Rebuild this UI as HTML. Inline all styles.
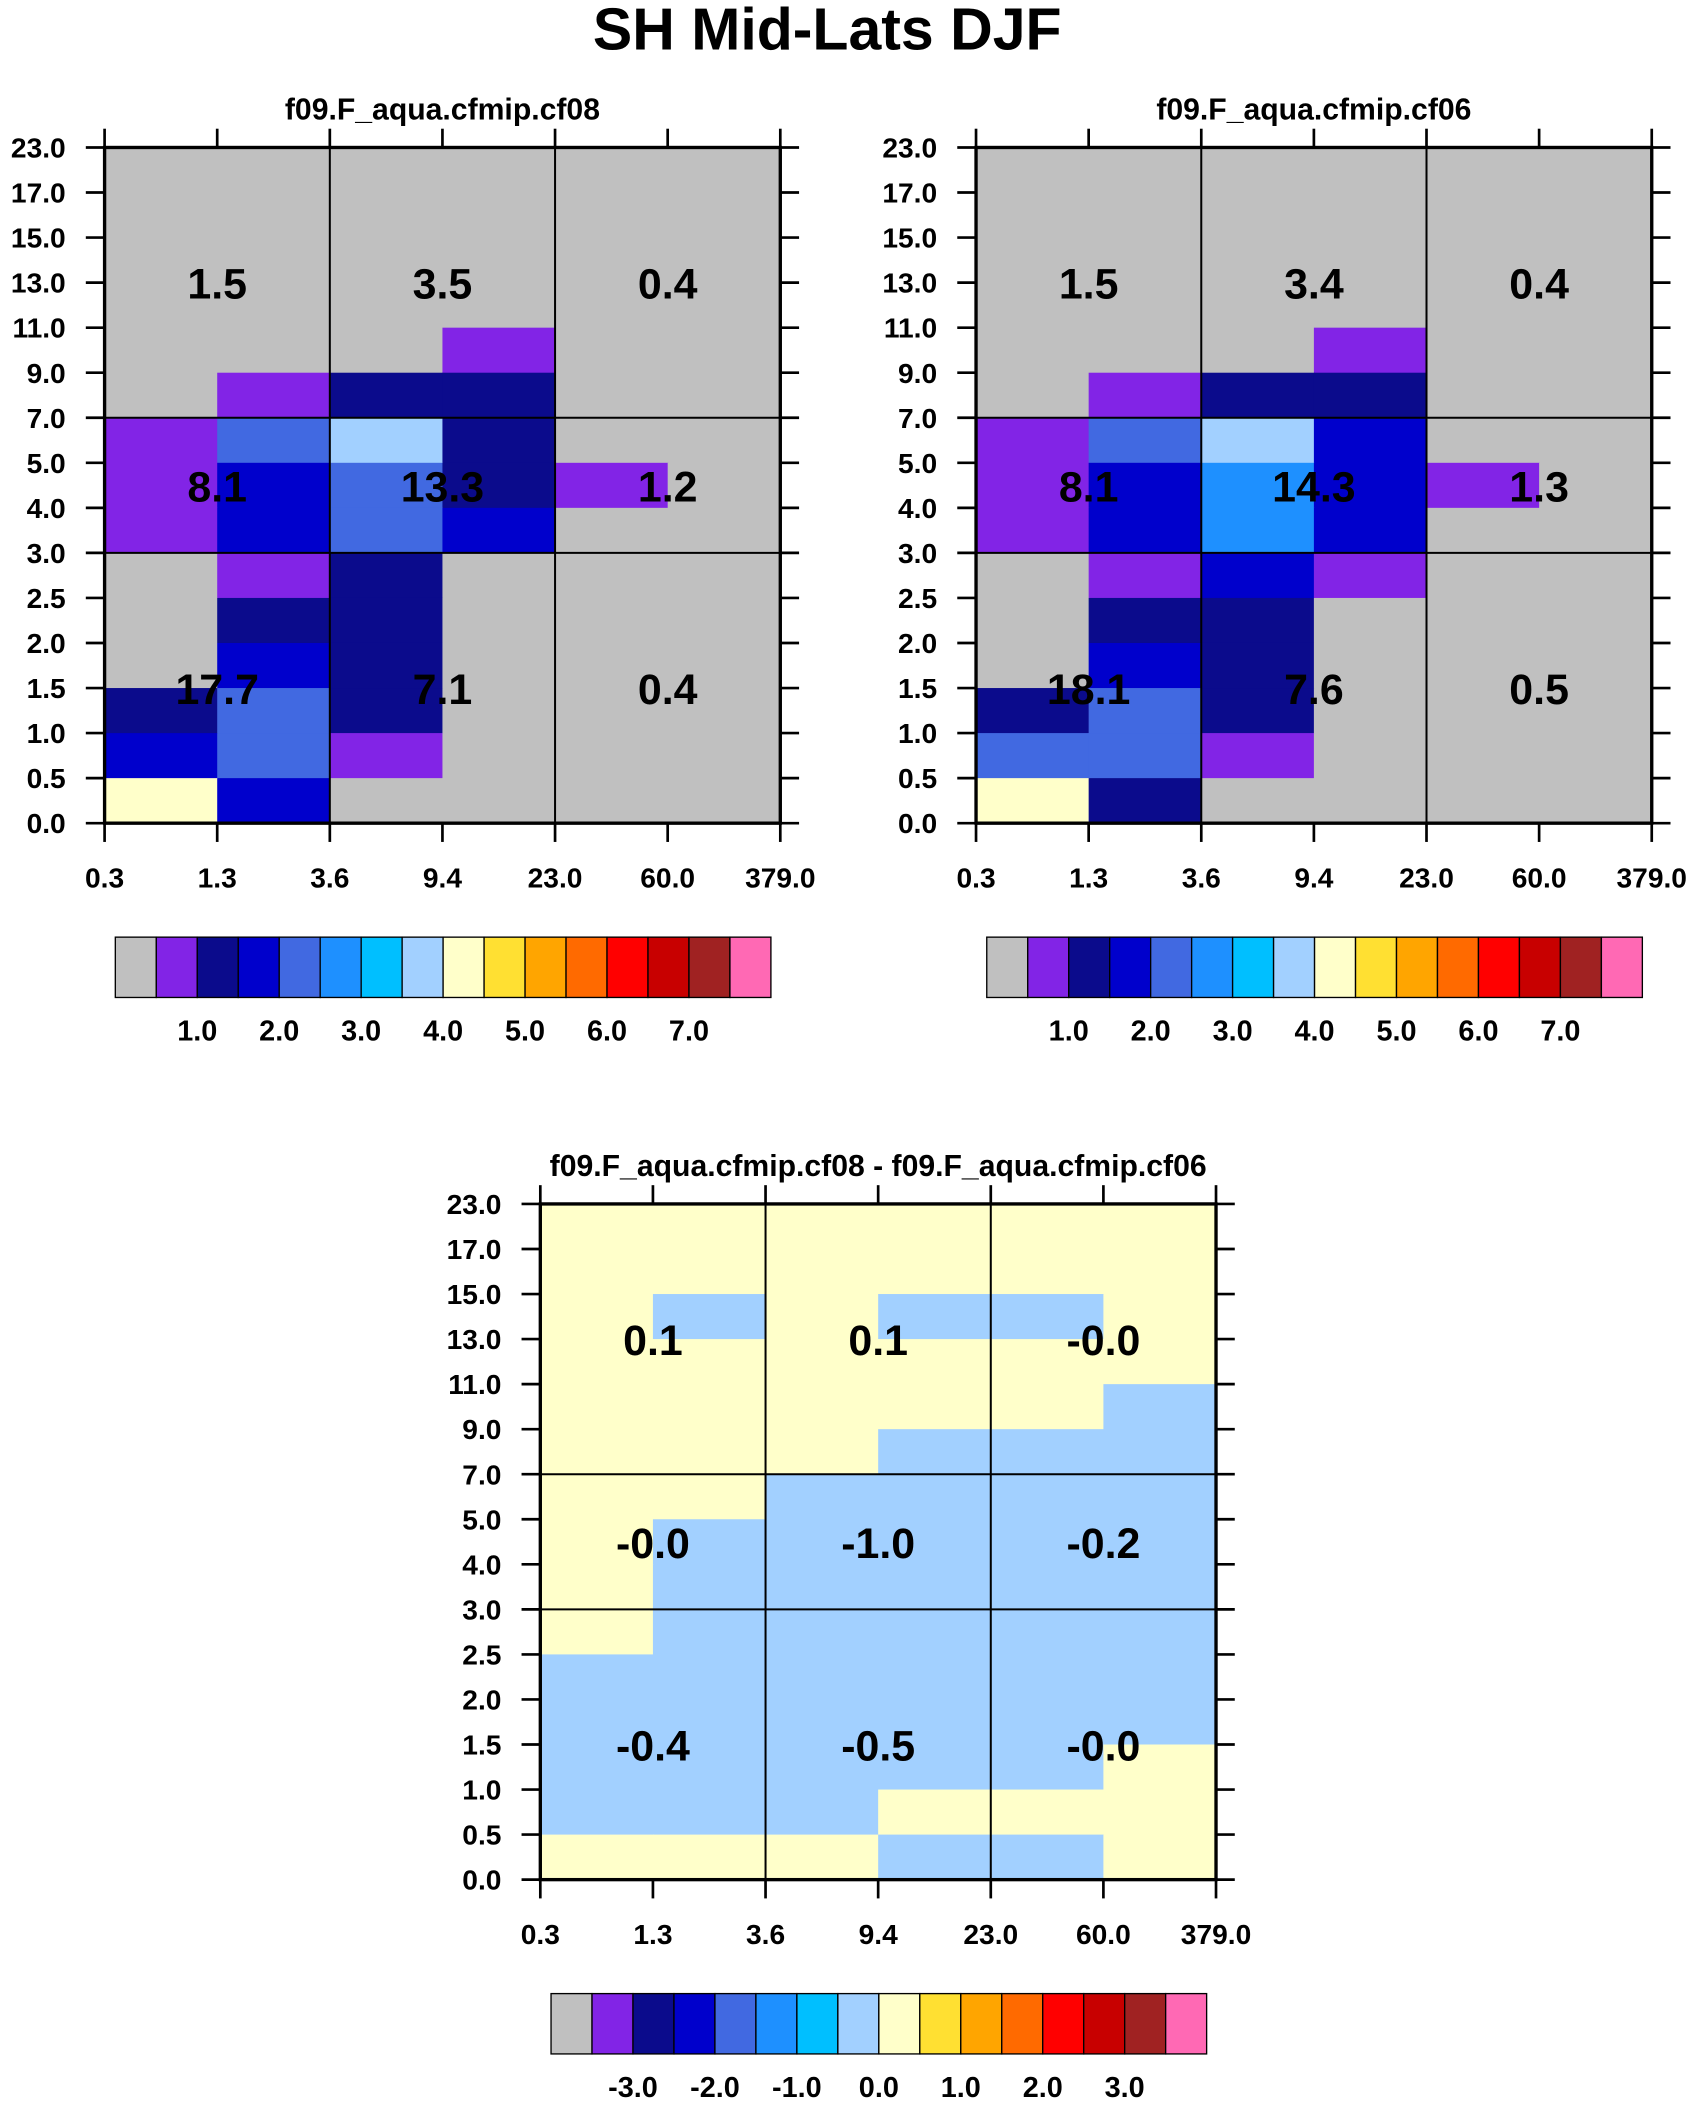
<!DOCTYPE html>
<html><head><meta charset="utf-8"><style>
html,body{margin:0;padding:0;background:#fff;}
svg text{font-family:"Liberation Sans",Arial,sans-serif;font-weight:bold;fill:#000;}
</style></head><body>
<svg id="fig" width="1696" height="2103" viewBox="0 0 1265 1568.6" xmlns="http://www.w3.org/2000/svg">
<rect width="1265" height="1569" fill="#fff"/>
<text x="617" y="37" font-size="44" text-anchor="middle">SH Mid-Lats DJF</text>
</svg>
<script>
const xTickLabels = ["0.3","1.3","3.6","9.4","23.0","60.0","379.0"];
const yTickLabels = ["23.0","17.0","15.0","13.0","11.0","9.0","7.0","5.0","4.0","3.0","2.5","2.0","1.5","1.0","0.5","0.0"];
const palette = ["#c0c0c0","#8224e6","#0b0b8c","#0000cc","#4169e1","#1e90ff","#00bfff","#a2d0ff","#ffffca","#ffe032","#ffa500","#ff6a00","#ff0000","#c80000","#a02222","#ff69b4"];
const cbLabelsAbs = ["1.0","2.0","3.0","4.0","5.0","6.0","7.0"];
const cbLabelsDiff = ["-3.0","-2.0","-1.0","0.0","1.0","2.0","3.0"];
// rows top (23-17) to bottom (0.5-0), 6 columns; values are palette indices
const cells1 = [
[0,0,0,0,0,0],[0,0,0,0,0,0],[0,0,0,0,0,0],[0,0,0,0,0,0],
[0,0,0,1,0,0],[0,1,2,2,0,0],[1,4,7,2,0,0],[1,3,4,2,1,0],[1,3,4,3,0,0],
[0,1,2,0,0,0],[0,2,2,0,0,0],[0,3,2,0,0,0],[2,4,2,0,0,0],[3,4,1,0,0,0],[8,3,0,0,0,0]];
const cells2 = [
[0,0,0,0,0,0],[0,0,0,0,0,0],[0,0,0,0,0,0],[0,0,0,0,0,0],
[0,0,0,1,0,0],[0,1,2,2,0,0],[1,4,7,3,0,0],[1,3,5,3,1,0],[1,3,5,3,0,0],
[0,1,3,1,0,0],[0,2,2,0,0,0],[0,3,2,0,0,0],[2,4,2,0,0,0],[4,4,1,0,0,0],[8,2,0,0,0,0]];
const cellsD = [
[8,8,8,8,8,8],[8,8,8,8,8,8],[8,7,8,7,7,8],[8,8,8,8,8,8],
[8,8,8,8,8,7],[8,8,8,7,7,7],[8,8,7,7,7,7],[8,7,7,7,7,7],[8,7,7,7,7,7],
[8,7,7,7,7,7],[7,7,7,7,7,7],[7,7,7,7,7,7],[7,7,7,7,7,8],[7,7,7,8,8,8],[8,8,8,7,7,8]];
const vals1 = ["1.5","3.5","0.4","8.1","13.3","1.2","17.7","7.1","0.4"];
const vals2 = ["1.5","3.4","0.4","8.1","14.3","1.3","18.1","7.6","0.5"];
const valsD = ["0.1","0.1","-0.0","-0.0","-1.0","-0.2","-0.4","-0.5","-0.0"];

const NS="http://www.w3.org/2000/svg";
const svg=document.getElementById('fig');
function mk(tag,attrs,parent,txt){const e=document.createElementNS(NS,tag);for(const k in attrs)e.setAttribute(k,attrs[k]);if(txt!==undefined)e.textContent=txt;(parent||svg).appendChild(e);return e;}

function panel(id,x0,y0,title,cells,vals){
  const W=504,H=504,nc=6,nr=yTickLabels.length-1;
  const cw=W/nc,rh=H/nr;
  const xs=i=>x0+i*cw, ys=j=>y0+j*rh;
  const g=mk('g',{});
  
  
  const t=mk('text',{x:x0+W/2,y:y0-21,'font-size':22.5,'text-anchor':'middle'},g,title);
  
  
  cells.forEach((row,j)=>row.forEach((ci,i)=>{
    const r=mk('rect',{x:xs(i),y:ys(j),width:cw+0.5,height:rh+0.5,fill:palette[ci]},g);
    
    
  }));
  [2,4].forEach(i=>mk('line',{x1:xs(i),x2:xs(i),y1:y0,y2:y0+H,stroke:'#000','stroke-width':1.5},g));
  [6,9].forEach(j=>mk('line',{x1:x0,x2:x0+W,y1:ys(j),y2:ys(j),stroke:'#000','stroke-width':1.5},g));
  mk('rect',{x:x0,y:y0,width:W,height:H,fill:'none',stroke:'#000','stroke-width':2.5},g);
  for(let i=0;i<=nc;i++){
    mk('line',{x1:xs(i),x2:xs(i),y1:y0,y2:y0-14,stroke:'#000','stroke-width':2},g);
    mk('line',{x1:xs(i),x2:xs(i),y1:y0+H,y2:y0+H+14,stroke:'#000','stroke-width':2},g);
    const l=mk('text',{x:xs(i),y:y0+H+48,'font-size':21,'text-anchor':'middle'},g,xTickLabels[i]);
    
    
  }
  for(let j=0;j<=nr;j++){
    mk('line',{x1:x0,x2:x0-14,y1:ys(j),y2:ys(j),stroke:'#000','stroke-width':2},g);
    mk('line',{x1:x0+W,x2:x0+W+14,y1:ys(j),y2:ys(j),stroke:'#000','stroke-width':2},g);
    const l=mk('text',{x:x0-29,y:ys(j)+7.5,'font-size':21,'text-anchor':'end'},g,yTickLabels[j]);
    
    
  }
  const rowC=[(0+6)/2,(6+9)/2,(9+15)/2];
  vals.forEach((v,k)=>{
    const gi=k%3,gj=Math.floor(k/3);
    const l=mk('text',{x:xs(gi*2+1),y:ys(rowC[gj])+12,'font-size':32,'text-anchor':'middle'},g,v);
    
    
  });
}
function colorbar(id,x0,y0,labels){
  const bw=489/palette.length;
  const g=mk('g',{});
  
  
  palette.forEach((c,i)=>mk('rect',{x:x0+i*bw,y:y0,width:bw,height:45,fill:c,stroke:'#000','stroke-width':1},g));
  labels.forEach((s,k)=>{
    const l=mk('text',{x:x0+(2*k+2)*bw,y:y0+77,'font-size':21.5,'text-anchor':'middle'},g,s);
    
    
  });
}
panel('cf08',78,110,'f09.F_aqua.cfmip.cf08',cells1,vals1);
panel('cf06',728,110,'f09.F_aqua.cfmip.cf06',cells2,vals2);
panel('diff',403,898,'f09.F_aqua.cfmip.cf08 - f09.F_aqua.cfmip.cf06',cellsD,valsD);
colorbar('cf08',86,699,cbLabelsAbs);
colorbar('cf06',736,699,cbLabelsAbs);
colorbar('diff',411,1487,cbLabelsDiff);
</script>
</body></html>
